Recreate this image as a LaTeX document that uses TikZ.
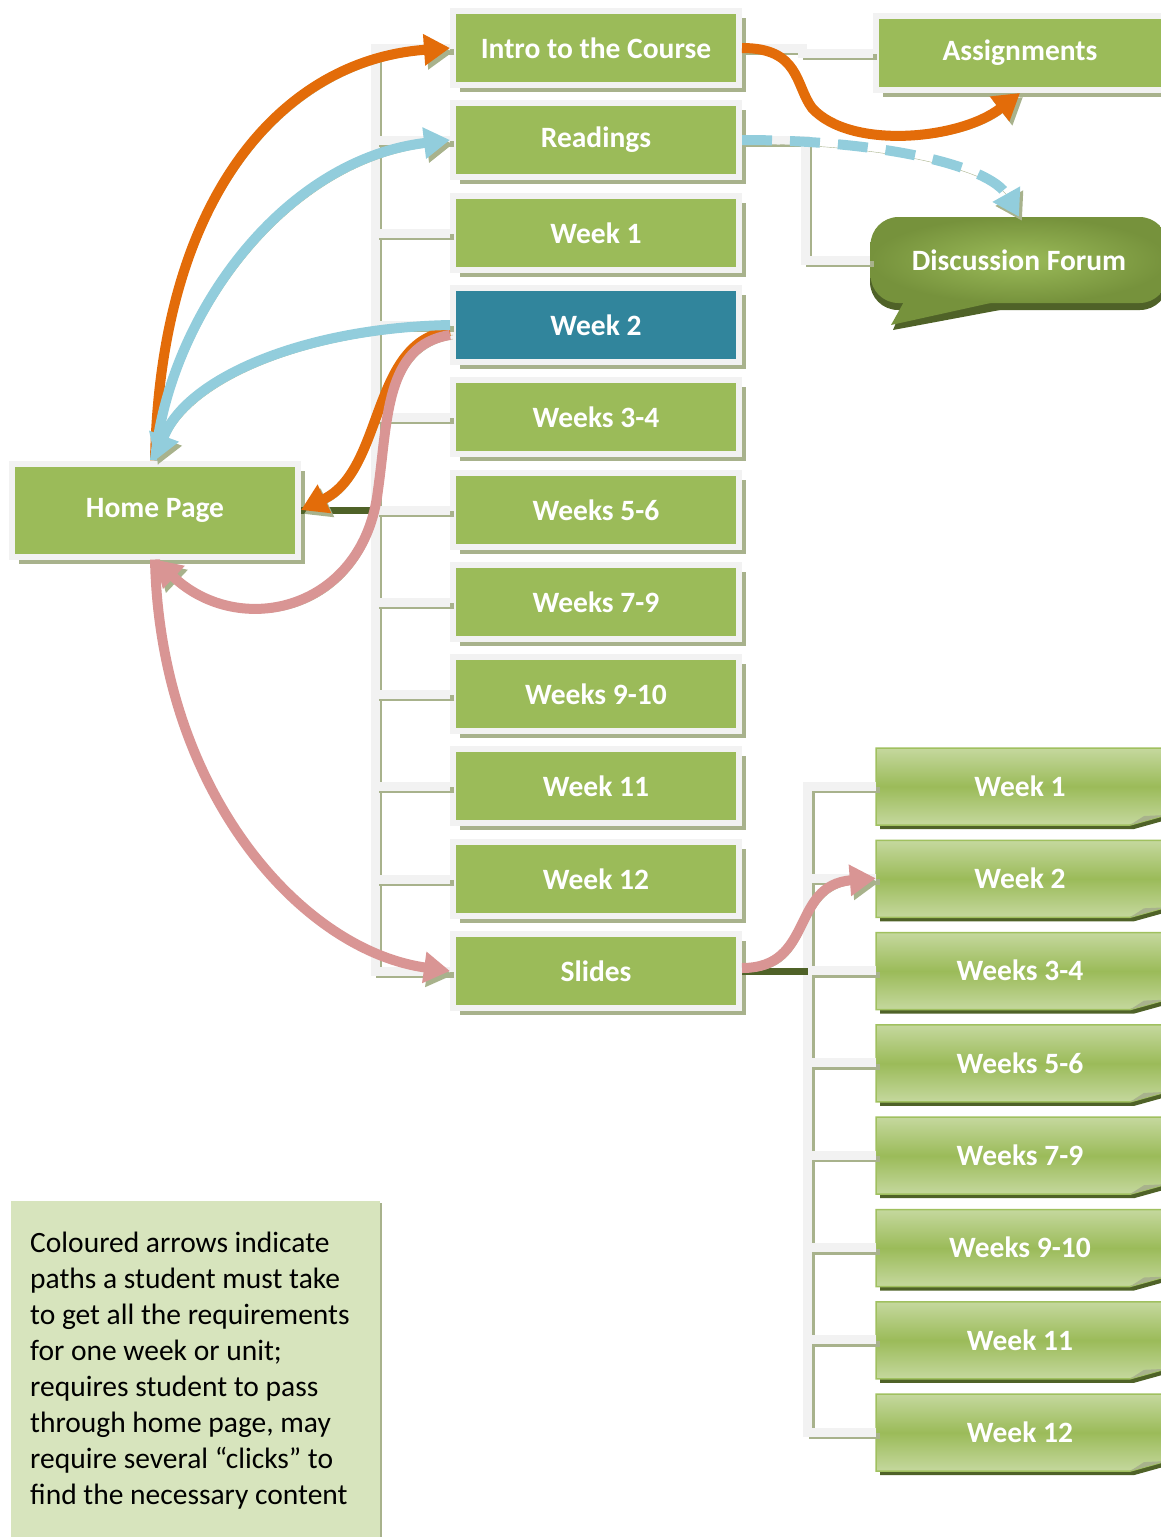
\documentclass[tikz,border=0pt]{standalone}
\usepackage{fontspec}
\setmainfont{Carlito}
\usetikzlibrary{arrows.meta,positioning,shadows,calc}
\definecolor{lmsgreen}{RGB}{155,187,89}
\definecolor{lmslight}{RGB}{197,216,158}
\definecolor{lmsrim}{RGB}{160,192,95}
\definecolor{lmsolive}{RGB}{118,146,60}
\definecolor{lmsdark}{RGB}{79,98,40}
\definecolor{lmsteal}{RGB}{49,133,156}
\definecolor{lmsframe}{RGB}{242,242,242}
\definecolor{lmshatch}{RGB}{168,178,140}
\definecolor{lmsnote}{RGB}{215,228,189}
\definecolor{pathorange}{RGB}{227,108,9}
\definecolor{pathblue}{RGB}{146,205,220}
\definecolor{pathpink}{RGB}{217,149,148}

\begin{document}
\begin{tikzpicture}[x=1pt,y=-1pt,
  page/.style={draw=lmsframe,line width=6pt,fill=lmsgreen,text=white,
        font=\fontsize{29.5}{32}\selectfont\bfseries,
        minimum width=286pt,minimum height=74pt,
        drop shadow={shadow xshift=7pt,shadow yshift=-7pt,fill=lmshatch,opacity=1}},
  tab/.style={top color=lmslight,bottom color=lmslight,middle color=lmsgreen,
        draw=lmsrim,line width=1.5pt},
  tablabel/.style={text=white,font=\fontsize{29.5}{32}\selectfont\bfseries,
        minimum width=288pt,minimum height=76pt},
  forum/.style={inner color=lmsgreen,outer color=lmsolive,rounded corners=28pt,
        text=white,font=\fontsize{29.5}{32}\selectfont\bfseries,
        minimum width=297pt,minimum height=86pt},
  link/.style={draw=lmsframe,line width=9pt,
        preaction={draw=lmshatch,line width=6pt,transform canvas={shift={(4,4)}}}},
  hilite/.style={draw=lmsdark,line width=7pt},
  flow/.style={line width=10pt,-{Triangle[length=26pt,width=30pt]},
        preaction={draw=lmshatch,transform canvas={shift={(3,4)}}}},
  notetext/.style={text=black,align=left,inner sep=0pt,
        font=\fontsize{29.5}{36}\selectfont}]
  \useasboundingbox (0,0) rectangle (1161,1537);

  % course pages (middle column)
  \node[page] (intro) at (596,48) {Intro to the Course};
  \node[page] (read) at (596,140) {Readings};
  \node[page] (wk1) at (596,233) {Week 1};
  \node[page,fill=lmsteal] (wk2) at (596,325) {Week 2};
  \node[page] (wk34) at (596,417) {Weeks 3-4};
  \node[page] (wk56) at (596,510) {Weeks 5-6};
  \node[page] (wk79) at (596,602) {Weeks 7-9};
  \node[page] (wk910) at (596,694) {Weeks 9-10};
  \node[page] (wk11) at (596,786) {Week 11};
  \node[page] (wk12) at (596,879) {Week 12};
  \node[page] (slides) at (596,971) {Slides};

  % home page and side pages
  \node[page,minimum height=93pt] (home) at (155,510) {Home Page};
  \node[page,minimum width=288pt] (assign) at (1020,53) {Assignments};

  % discussion forum bubble
  \fill[lmsdark,rounded corners=28pt] (870,224) rectangle (1168,310);
  \node[forum] (forum) at (1019,260) {Discussion Forum};
  \fill[lmsdark] (903,306) -- (893,330) -- (1000,310) -- cycle;
  \fill[lmsolive] (905,300) -- (891,325) -- (995,302) -- cycle;

  % slide tabs (right column)
  \foreach \txt [count=\i from 0] in {Week 1,Week 2,Weeks 3-4,Weeks 5-6,
      Weeks 7-9,Weeks 9-10,Week 11,Week 12}{
    \pgfmathsetmacro\yy{786+92.3*\i}
    \fill[lmsdark] (880,\yy-34) -- (1170,\yy-34) -- (1170,\yy+33) -- (1134,\yy+43) -- (880,\yy+43) -- cycle;
    \path[tab] (876,\yy-38) -- (1166,\yy-38) -- (1166,\yy+29) -- (1130,\yy+39) -- (876,\yy+39) -- cycle;
    \fill[lmshatch] (1130,\yy+39) -- (1144,\yy+30) -- (1166,\yy+29) -- cycle;
    \node[tablabel] (r\i) at (1020,\yy) {\txt};
  }

  % tree connectors
  \draw[link] (intro.west) -| ($(slides.west)+(-75,0)$) -- (slides.west);
  \foreach \n in {read,wk1,wk2,wk34,wk56,wk79,wk910,wk11,wk12}
    \draw[link] (\n.west) -- ++(-75,0);
  \draw[link] (intro.east) -- ++(60,0) |- (assign.west);
  \draw[link] (read.east) -- ++(63,0) |- (forum.west);
  \draw[link] (r0.west) -| ($(r7.west)+(-68,0)$) -- (r7.west);
  \foreach \i in {1,...,6}
    \draw[link] (r\i.west) -- ++(-68,0);
  \draw[hilite] (home.east) -- ($(home.east -| intro.west)+(-75,0)$);
  \draw[hilite] (slides.east) -- ($(slides.east -| r0.west)+(-68,0)$);

  % note
  \fill[lmsnote] (11,1201) rectangle (380,1545);
  \draw[lmshatch,line width=2pt] (381,1203) -- (381,1545);
  \node[notetext,anchor=north west] (note) at (30,1232)
    {Coloured arrows indicate\\paths a student must take\\to get all the requirements\\for one week or unit;\\requires student to pass\\through home page, may\\require several “clicks” to\\find the necessary content};

  % orange paths
  \draw[flow,pathorange] (home.north) .. controls (160,200) and (280,60) .. (intro.west);
  \draw[flow,pathorange] ($(wk2.west)+(0,6)$) .. controls (370,340) and (385,470) .. (home.east);
  \draw[flow,pathorange] (intro.east) .. controls (800,48) and (795,85) .. (812,108)
        .. controls (850,150) and (960,140) .. (assign.south);
  % blue paths
  \draw[flow,pathblue] (home.north) .. controls (168,320) and (280,160) .. (read.west);
  \draw[flow,pathblue] (wk2.west) .. controls (300,328) and (185,380) .. (home.north);
  \draw[flow,pathblue,dash pattern=on 30pt off 18pt] (read.east)
        .. controls (880,140) and (990,165) .. (forum.north);
  % pink paths
  \draw[flow,pathpink] ($(wk2.west)+(0,10)$) .. controls (385,345) and (388,420) .. (378,490)
        .. controls (364,610) and (240,640) .. (home.south);
  \draw[flow,pathpink] (home.south) .. controls (160,790) and (300,950) .. (slides.west);
  \draw[flow,pathpink] ($(slides.east)+(0,-3)$) .. controls (815,968) and (790,885) .. (r1.west);
\end{tikzpicture}
\end{document}
